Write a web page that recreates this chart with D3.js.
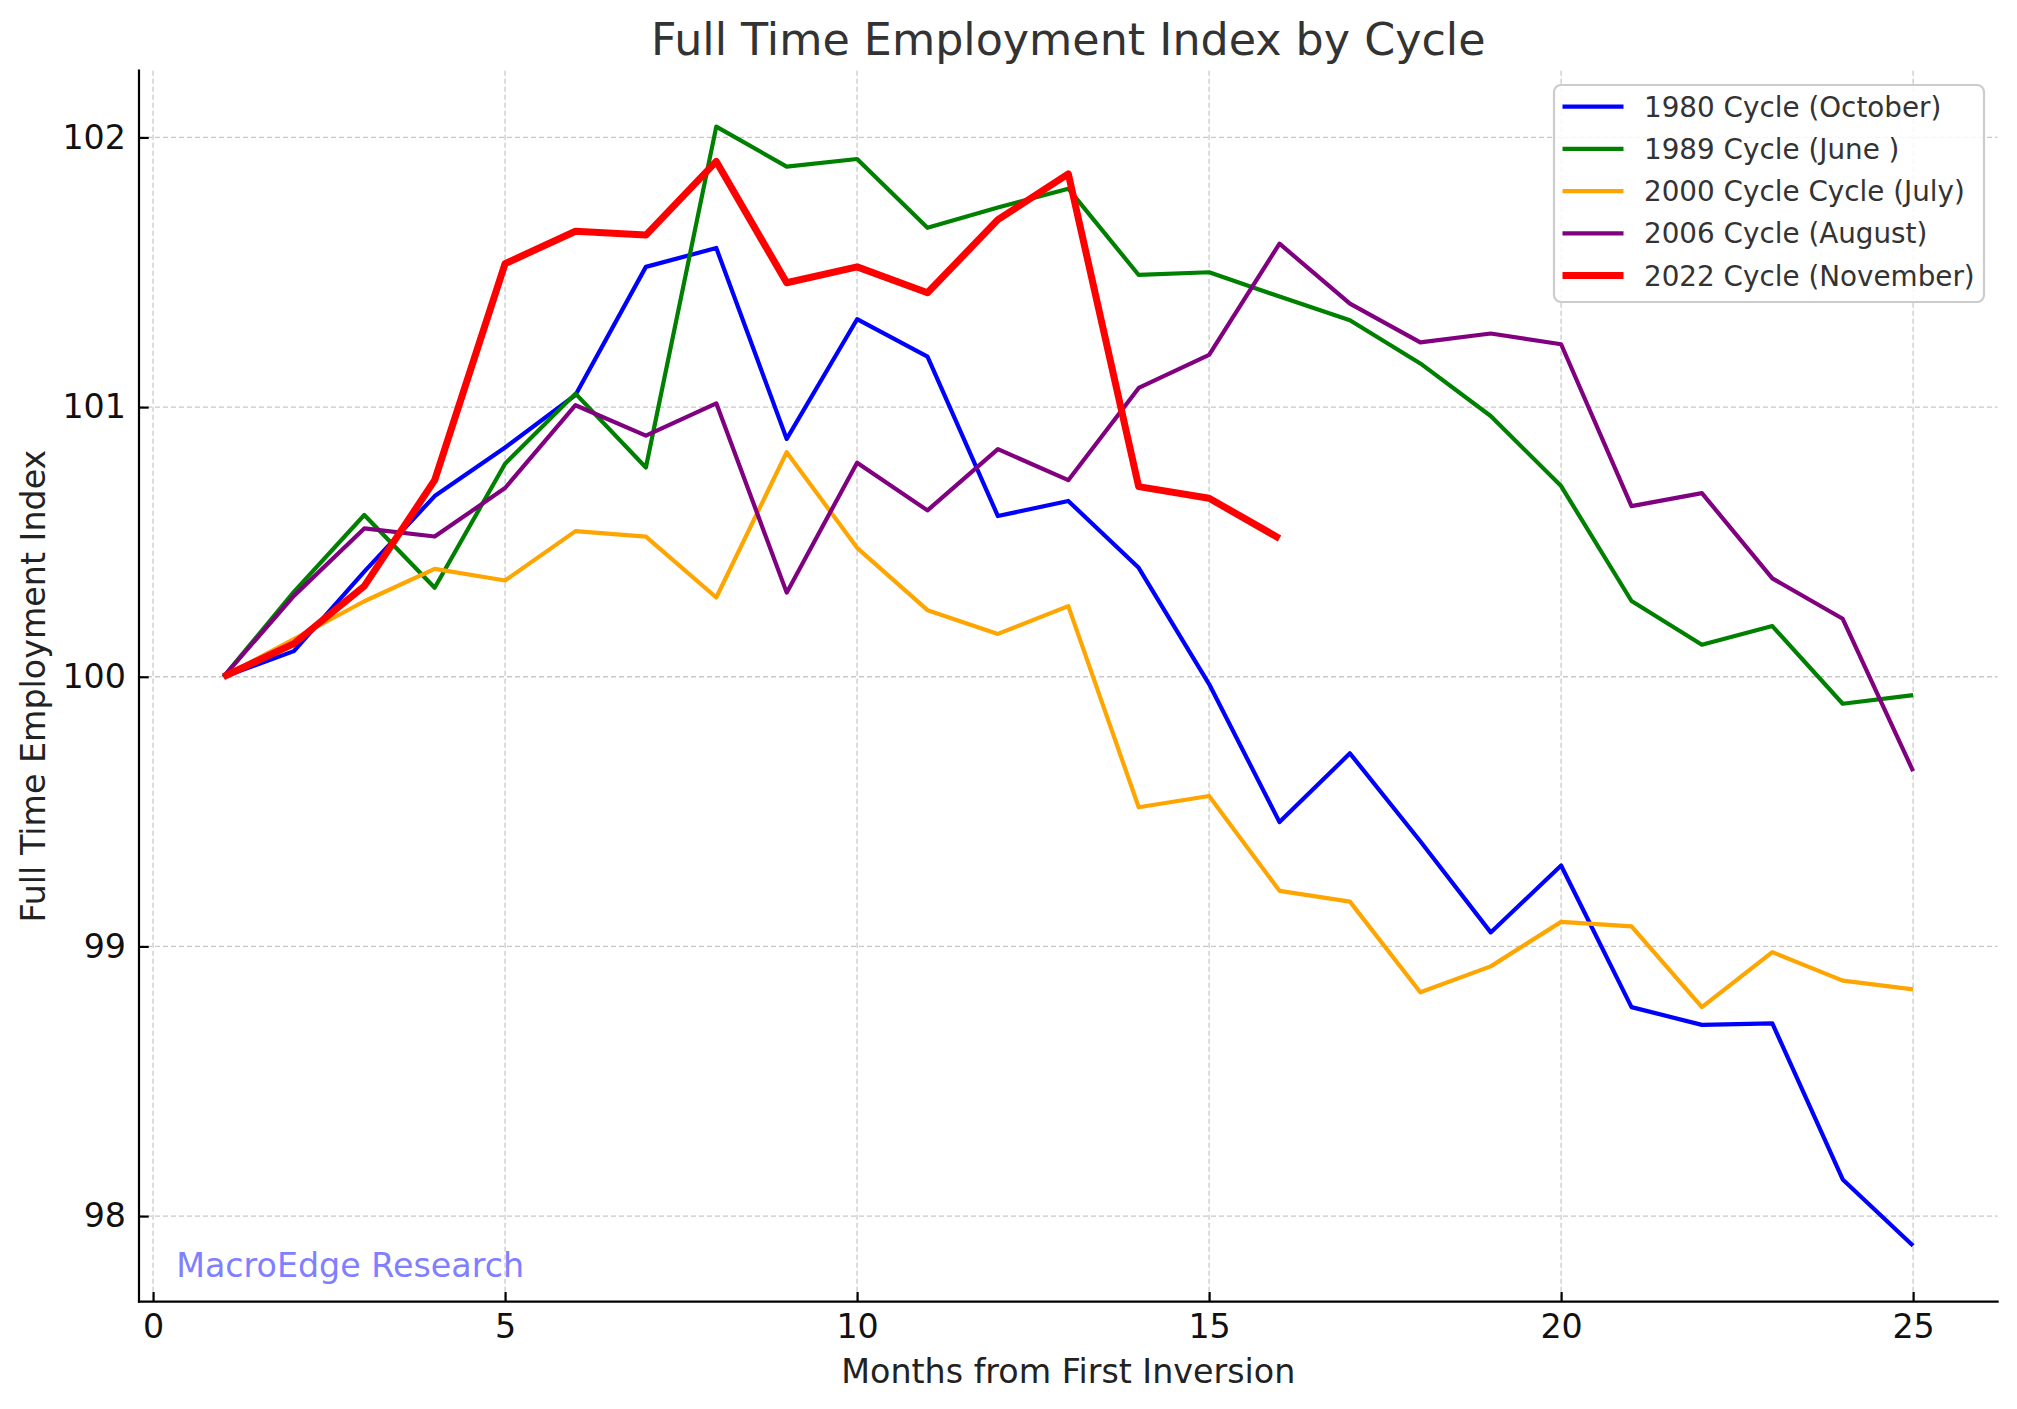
<!DOCTYPE html>
<html>
<head>
<meta charset="utf-8">
<script src="https://cdn.jsdelivr.net/npm/d3@7"></script>
<style>
html,body{margin:0;padding:0;background:#fff;}
svg{display:block;font-family:"DejaVu Sans",sans-serif;}
</style>
</head>
<body>
<svg id="chart" width="2017" height="1409"></svg>
<script>
const months = [1,2,3,4,5,6,7,8,9,10,11,12,13,14,15,16,17,18,19,20,21,22,23,24,25];
const c1980 = [100.00,100.095,100.39,100.67,100.85,101.045,101.52,101.59,100.882,101.326,101.187,100.596,100.652,100.404,99.973,99.461,99.716,99.39,99.052,99.30,98.775,98.709,98.715,98.136,97.89];
const c1989 = [100.00,100.315,100.60,100.33,100.79,101.05,100.776,102.04,101.892,101.92,101.665,101.74,101.81,101.49,101.50,101.41,101.322,101.162,100.967,100.707,100.281,100.119,100.188,99.90,99.932];
const c2000 = [100.00,100.14,100.28,100.40,100.357,100.54,100.52,100.294,100.833,100.478,100.247,100.159,100.262,99.516,99.558,99.206,99.166,98.83,98.926,99.091,99.074,98.775,98.979,98.873,98.841];
const c2006 = [100.00,100.30,100.55,100.52,100.70,101.007,100.894,101.014,100.312,100.794,100.617,100.844,100.729,101.071,101.194,101.606,101.384,101.24,101.273,101.233,100.633,100.681,100.365,100.215,99.65];
const c2022 = [100.00,100.123,100.336,100.729,101.532,101.652,101.638,101.911,101.461,101.52,101.424,101.695,101.865,100.705,100.662,100.513];
const seriesNames = ["1980 Cycle (October)","1989 Cycle (June )","2000 Cycle Cycle (July)","2006 Cycle (August)","2022 Cycle (November)"];
const seriesColors = ["#0000ff","#008000","#ffa500","#800080","#ff0000"];
const seriesWidths = [4.2,4.2,4.2,4.2,7];
const xTicks = [0,5,10,15,20,25];
const yTicks = [98,99,100,101,102];
const titleText = "Full Time Employment Index by Cycle";
const xLabel = "Months from First Inversion";
const yLabel = "Full Time Employment Index";
const watermark = "MacroEdge Research";

const seriesValues = [c1980,c1989,c2000,c2006,c2022];
const series = seriesNames.map((n,i)=>({name:n,color:seriesColors[i],width:seriesWidths[i],
  values:seriesValues[i].map((v,j)=>({m:months[j],v:v}))}));

const L=139, R=1997.6, T=70.7, B=1301.7;
const svg = d3.select("#chart");
const x = d3.scaleLinear().domain([-0.2,26.2]).range([L,R]);
const y = d3.scaleLinear().domain([97.6825,102.2475]).range([B,T]);

// grid
const grid = svg.append("g");
grid.selectAll("line.gx").data(xTicks).enter().append("line")
  .attr("x1",d=>x(d)).attr("x2",d=>x(d)).attr("y1",T).attr("y2",B)
  .attr("stroke","#c8c8c8").attr("stroke-width",1.3).attr("stroke-dasharray","5,3");
grid.selectAll("line.gy").data(yTicks).enter().append("line")
  .attr("y1",d=>y(d)).attr("y2",d=>y(d)).attr("x1",L).attr("x2",R)
  .attr("stroke","#c8c8c8").attr("stroke-width",1.3).attr("stroke-dasharray","5,3");

// lines
const line = d3.line().x(d=>x(d.m)).y(d=>y(d.v));
svg.append("g").selectAll("path").data(series).enter().append("path")
  .attr("d",d=>line(d.values)).attr("fill","none")
  .attr("stroke",d=>d.color).attr("stroke-width",d=>d.width)
  .attr("stroke-linejoin","round").attr("stroke-linecap","butt");

// axes (ticks point inward)
const xAxis = d3.axisBottom(x).tickValues(xTicks).tickFormat(d3.format("d")).tickSize(-9.7).tickPadding(12.6).tickSizeOuter(0);
const yAxis = d3.axisLeft(y).tickValues(yTicks).tickFormat(d3.format("d")).tickSize(-9.7).tickPadding(13).tickSizeOuter(0);
const gx = svg.append("g").attr("transform",`translate(0,${B})`).call(xAxis);
const gy = svg.append("g").attr("transform",`translate(${L},0)`).call(yAxis);
[gx,gy].forEach(g=>{
  g.select(".domain").remove();
  g.selectAll(".tick line").attr("stroke","#000").attr("stroke-width",2.2);
  g.selectAll(".tick text").attr("fill","#111").attr("font-size","33.3px").attr("font-family","DejaVu Sans");
});
gx.selectAll(".tick text").attr("dy","0.71em");
svg.append("line").attr("x1",L).attr("x2",R).attr("y1",B).attr("y2",B).attr("stroke","#000").attr("stroke-width",2.2).attr("stroke-linecap","square");
svg.append("line").attr("x1",L).attr("x2",L).attr("y1",T).attr("y2",B).attr("stroke","#000").attr("stroke-width",2.2).attr("stroke-linecap","square");

// watermark
svg.append("text").attr("x",L+0.02*(R-L)).attr("y",1277)
  .attr("fill","#7f7fff").attr("font-size","33.3px").text(watermark);

// title & labels
svg.append("text").attr("x",(L+R)/2).attr("y",55).attr("text-anchor","middle")
  .attr("fill","#333").attr("font-size","44.4px").text(titleText);
svg.append("text").attr("x",(L+R)/2).attr("y",1383).attr("text-anchor","middle")
  .attr("fill","#222").attr("font-size","33.3px").text(xLabel);
svg.append("text").attr("transform",`translate(45,${(T+B)/2}) rotate(-90)`).attr("text-anchor","middle")
  .attr("fill","#222").attr("font-size","33.3px").text(yLabel);

// legend
const lg = svg.append("g");
lg.append("rect").attr("x",1554).attr("y",85).attr("width",430).attr("height",217)
  .attr("rx",7).attr("fill","#fff").attr("fill-opacity",0.85).attr("stroke","#cccccc").attr("stroke-width",2.2);
series.forEach((s,i)=>{
  const cy = 106.7 + i*42.2;
  lg.append("line").attr("x1",1562.5).attr("x2",1623.5).attr("y1",cy).attr("y2",cy)
    .attr("stroke",s.color).attr("stroke-width",s.width);
  lg.append("text").attr("x",1644).attr("y",cy).attr("dy","0.36em")
    .attr("fill","#333").attr("font-size","27.8px").text(s.name);
});
</script>
</body>
</html>
